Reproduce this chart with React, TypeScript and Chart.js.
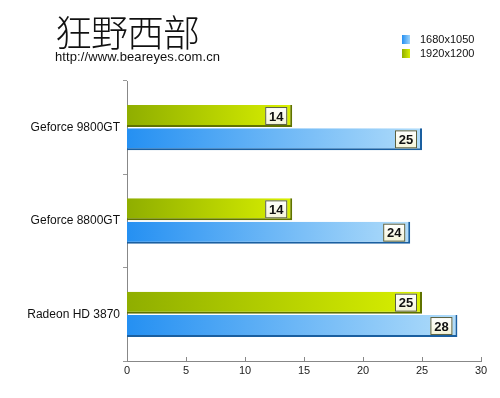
import React, { useEffect, useRef } from "react";
import { Chart, registerables } from "chart.js";

Chart.register(...registerables);

const categories = ["Geforce 9800GT", "Geforce 8800GT", "Radeon HD 3870"];
const series1920 = [14, 14, 25];
const series1680 = [25, 24, 28];
const xTicks = [0, 5, 10, 15, 20, 25, 30];
const legendLabels = ["1680x1050", "1920x1200"];

function gradFill(from: string, to: string) {
  return (c: any) => {
    const chart = c.chart;
    const area = chart.chartArea;
    if (!area || c.parsed === undefined) return to;
    const xs = chart.scales.x;
    const x0 = xs.getPixelForValue(0);
    const x1 = xs.getPixelForValue(c.raw as number);
    const g = chart.ctx.createLinearGradient(x0, 0, x1, 0);
    g.addColorStop(0, from);
    g.addColorStop(1, to);
    return g;
  };
}

const valueLabels = {
  id: "valueLabels",
  afterDatasetsDraw(chart: any) {
    const ctx = chart.ctx;
    chart.data.datasets.forEach((ds: any, i: number) => {
      const meta = chart.getDatasetMeta(i);
      meta.data.forEach((el: any, j: number) => {
        const h = el.height - 4;
        const w = 22;
        const x = el.x - 5 - w;
        const y = el.y - h / 2;
        ctx.save();
        const g = ctx.createLinearGradient(0, y, 0, y + h);
        g.addColorStop(0, "#ffffff");
        g.addColorStop(1, "#f4f4d8");
        ctx.fillStyle = g;
        ctx.fillRect(x, y, w, h);
        ctx.strokeStyle = "#5a6040";
        ctx.lineWidth = 1;
        ctx.strokeRect(x + 0.5, y + 0.5, w - 1, h - 1);
        ctx.fillStyle = "#111";
        ctx.font = "bold 13px 'Liberation Sans', Arial, sans-serif";
        ctx.textAlign = "center";
        ctx.textBaseline = "middle";
        ctx.fillText(String(ds.data[j]), x + w / 2, el.y + 1);
        ctx.restore();
      });
    });
  },
};

const innerTicks = {
  id: "innerTicks",
  afterDraw(chart: any) {
    const ctx = chart.ctx;
    const xs = chart.scales.x;
    const bottom = chart.chartArea.bottom;
    ctx.save();
    ctx.strokeStyle = "#888";
    ctx.lineWidth = 1;
    xTicks.forEach((v) => {
      const px = Math.round(xs.getPixelForValue(v)) + 0.5;
      ctx.beginPath();
      ctx.moveTo(px, bottom);
      ctx.lineTo(px, bottom - 4);
      ctx.stroke();
    });
    ctx.restore();
  },
};

export default function App() {
  const ref = useRef<HTMLCanvasElement | null>(null);
  useEffect(() => {
    if (!ref.current) return;
    const chart = new Chart(ref.current, {
      type: "bar",
      data: {
        labels: categories,
        datasets: [
          {
            label: legendLabels[1],
            data: series1920,
            backgroundColor: gradFill("#8fae00", "#d9f000"),
            borderColor: "#5f7200",
            borderWidth: { top: 0, left: 0, right: 2, bottom: 2 } as any,
            borderSkipped: false,
            categoryPercentage: 0.5,
            barPercentage: 0.94,
          },
          {
            label: legendLabels[0],
            data: series1680,
            backgroundColor: gradFill("#2590f2", "#b0dcfa"),
            borderColor: "#1a5fa0",
            borderWidth: { top: 0, left: 0, right: 2, bottom: 2 } as any,
            borderSkipped: false,
            categoryPercentage: 0.5,
            barPercentage: 0.94,
          },
        ],
      },
      options: {
        indexAxis: "y",
        animation: false,
        responsive: false,
        maintainAspectRatio: false,
        layout: { padding: { top: 81, right: 19, left: 0, bottom: 0 } },
        plugins: {
          legend: { display: false },
          tooltip: { enabled: false },
          title: { display: false },
        },
        scales: {
          x: {
            min: 0,
            max: 30,
            afterBuildTicks: (s: any) => {
              s.ticks = xTicks.map((v) => ({ value: v }));
            },
            afterFit: (s: any) => {
              s.height = 37;
            },
            grid: { display: false, drawTicks: false },
            border: { display: true, color: "#888", width: 1 },
            ticks: {
              color: "#222",
              padding: 3,
              font: { size: 11, family: "'Liberation Sans', Arial, sans-serif" },
            },
          },
          y: {
            afterFit: (s: any) => {
              s.width = 127;
            },
            grid: {
              display: true,
              offset: true,
              drawOnChartArea: false,
              drawTicks: true,
              tickLength: 4,
              color: "#999",
            },
            border: { display: true, color: "#888", width: 1 },
            ticks: {
              color: "#111",
              padding: 3,
              font: { size: 12, family: "'Liberation Sans', Arial, sans-serif" },
            },
          },
        },
      },
      plugins: [valueLabels, innerTicks],
    });
    return () => chart.destroy();
  }, []);

  return (
    <div
      style={{
        position: "fixed",
        left: 0,
        top: 0,
        width: 500,
        height: 398,
        background: "#fff",
        fontFamily: "'Liberation Sans', Arial, sans-serif",
      }}
    >
      <canvas ref={ref} width={500} height={398} style={{ position: "absolute", left: 0, top: 0 }} />
      <div
        style={{
          position: "absolute",
          left: 55,
          top: 9,
          fontSize: 37,
          lineHeight: "44px",
          fontFamily: "'Noto Sans CJK SC', sans-serif",
          fontWeight: 300,
          color: "#111",
          letterSpacing: -1,
        }}
      >
        狂野西部
      </div>
      <div
        style={{
          position: "absolute",
          left: 55,
          top: 49,
          fontSize: 13,
          lineHeight: "15px",
          color: "#111",
          letterSpacing: 0.1,
        }}
      >
        http://www.beareyes.com.cn
      </div>
      {[
        { label: legendLabels[0], c1: "#2590f2", c2: "#9fd4fa", top: 32 },
        { label: legendLabels[1], c1: "#8fae00", c2: "#d9f000", top: 46 },
      ].map((it) => (
        <div
          key={it.label}
          style={{ position: "absolute", left: 402, top: it.top, height: 14, display: "flex", alignItems: "center" }}
        >
          <span
            style={{
              display: "inline-block",
              width: 8,
              height: 9,
              background: `linear-gradient(90deg, ${it.c1}, ${it.c2})`,
              marginRight: 10,
            }}
          />
          <span style={{ fontSize: 11, color: "#111" }}>{it.label}</span>
        </div>
      ))}
    </div>
  );
}
